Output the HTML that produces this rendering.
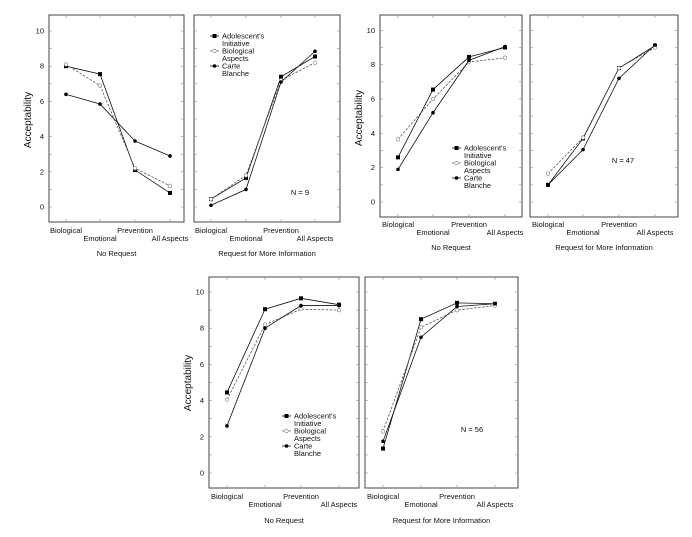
<!DOCTYPE html>
<html><head><meta charset="utf-8"><style>
body{margin:0;background:#fff;}
svg{display:block;font-family:"Liberation Sans",sans-serif;}
</style></head><body>
<svg id="chart" width="692" height="537" viewBox="0 0 692 537"></svg>
<script>
const categories=["Biological","Emotional","Prevention","All Aspects"];
const yTicks=[0,2,4,6,8,10];
const seriesNames=["Adolescent's Initiative","Biological Aspects","Carte Blanche"];
// group 1 (N=9)
const g1NoAI=[8.0,7.55,2.1,0.8], g1NoBA=[8.1,6.9,2.2,1.2], g1NoCB=[6.4,5.85,3.75,2.9];
const g1ReqAI=[0.45,1.65,7.4,8.55], g1ReqBA=[0.45,1.8,7.2,8.2], g1ReqCB=[0.1,1.0,7.1,8.85];
// group 2 (N=47)
const g2NoAI=[2.6,6.55,8.45,9.0], g2NoBA=[3.65,6.0,8.15,8.4], g2NoCB=[1.9,5.2,8.25,9.05];
const g2ReqAI=[1.0,3.7,7.8,9.1], g2ReqBA=[1.65,3.75,7.8,9.0], g2ReqCB=[1.0,3.05,7.2,9.15];
// group 3 (N=56)
const g3NoAI=[4.45,9.05,9.65,9.3], g3NoBA=[4.05,8.2,9.05,9.0], g3NoCB=[2.6,8.0,9.25,9.25];
const g3ReqAI=[1.35,8.5,9.4,9.35], g3ReqBA=[2.3,8.05,9.0,9.25], g3ReqCB=[1.75,7.5,9.2,9.35];
const nLabels=["N = 9","N = 47","N = 56"];

const svg=document.getElementById('chart');
const NS="http://www.w3.org/2000/svg";
function mk(tag,attrs,parent){const e=document.createElementNS(NS,tag);for(const k in attrs)e.setAttribute(k,attrs[k]);(parent||svg).appendChild(e);return e;}
function txt(x,y,s,size,anchor,parent){const t=mk('text',{x:x,y:y,'font-size':size,'text-anchor':anchor||'middle',fill:'#111'},parent);t.textContent=s;return t;}

const groups=[
 {top:15,bot:222,y10:31,y0:207,panels:[[49,184,[66,100,135,170]],[194,340,[211,246,281,315]]],lab1:233,lab2:241,glab:256,ylabX:31,ylabY:120,
  data:[[g1NoAI,g1NoBA,g1NoCB],[g1ReqAI,g1ReqBA,g1ReqCB]],legend:[1,210,36],n:[1,300,195]},
 {top:15,bot:217,y10:30.3,y0:202,panels:[[380,522,[398,433,469,505]],[530,678,[548,583,619,655]]],lab1:227,lab2:235,glab:250,ylabX:362,ylabY:118,
  data:[[g2NoAI,g2NoBA,g2NoCB],[g2ReqAI,g2ReqBA,g2ReqCB]],legend:[0,452,148],n:[1,623,163]},
 {top:277,bot:488,y10:292,y0:473,panels:[[209,359,[227,265,301,339]],[365,518,[383,421,457,495]]],lab1:499,lab2:507,glab:523,ylabX:191,ylabY:383,
  data:[[g3NoAI,g3NoBA,g3NoCB],[g3ReqAI,g3ReqBA,g3ReqCB]],legend:[0,282,416],n:[1,472,432]}
];
const groupNames=["No Request","Request for More Information"];

groups.forEach((g,gi)=>{
  const gEl=mk('g',{});
  
  
  const yScale=v=>g.y0+(g.y10-g.y0)*v/10;
  const yl=txt(0,0,'Acceptability',10,'middle',gEl);
  yl.setAttribute('transform','translate('+g.ylabX+','+g.ylabY+') rotate(-90)');
  
  
  g.panels.forEach((p,pi)=>{
    const [x0,x1,cx]=p;
    const pg=mk('g',{},gEl);
    
    
    mk('rect',{x:x0,y:g.top,width:x1-x0,height:g.bot-g.top,fill:'none',stroke:'#444','stroke-width':1},pg);
    for(let v=0;v<=10;v++){const y=yScale(v);
      mk('line',{x1:x0,y1:y,x2:x0+3,y2:y,stroke:'#888','stroke-width':0.6},pg);
      mk('line',{x1:x1,y1:y,x2:x1-3,y2:y,stroke:'#888','stroke-width':0.6},pg);}
    cx.forEach(x=>{mk('line',{x1:x,y1:g.top,x2:x,y2:g.top+3,stroke:'#888','stroke-width':0.6},pg);
      mk('line',{x1:x,y1:g.bot,x2:x,y2:g.bot-3,stroke:'#888','stroke-width':0.6},pg);});
    if(pi===0) yTicks.forEach(v=>{const t=txt(x0-5,yScale(v)+2.5,String(v),7.5,'end',pg);
      
      });
    categories.forEach((c,i)=>{const t=txt(cx[i],i%2===0?g.lab1:g.lab2,c,7.5,'middle',pg);
      
      });
    const gl=txt((x0+x1)/2,g.glab,groupNames[pi],7.5,'middle',pg);
    
    
    g.data[pi].forEach((vals,si)=>{
      const pts=vals.map((v,i)=>cx[i]+','+yScale(v)).join(' ');
      const l=mk('polyline',{points:pts,fill:'none',stroke:si===1?'#555':'#111','stroke-width':0.8,'stroke-dasharray':si===1?'2.5,1.5':'none'},pg);
      
      
      vals.forEach((v,i)=>{let m;
        if(si===0) m=mk('rect',{x:cx[i]-2,y:yScale(v)-2,width:4,height:4,fill:'#000'},pg);
        else if(si===1) m=mk('circle',{cx:cx[i],cy:yScale(v),r:1.8,fill:'#fff',stroke:'#777','stroke-width':0.6},pg);
        else m=mk('circle',{cx:cx[i],cy:yScale(v),r:1.8,fill:'#000'},pg);
        
        });
    });
    if(g.legend[0]===pi){const lx=g.legend[1],ly=g.legend[2];
      const lg=mk('g',{},pg);
      
      
      seriesNames.forEach((s,si)=>{const y=ly+si*15;
        mk('line',{x1:lx,y1:y,x2:lx+9,y2:y,stroke:si===1?'#555':'#111','stroke-width':0.8,'stroke-dasharray':si===1?'2,1.5':'none'},lg);
        if(si===0) mk('rect',{x:lx+2.5,y:y-2,width:4,height:4,fill:'#000'},lg);
        else if(si===1) mk('circle',{cx:lx+4.5,cy:y,r:1.8,fill:'#fff',stroke:'#777','stroke-width':0.6},lg);
        else mk('circle',{cx:lx+4.5,cy:y,r:1.8,fill:'#000'},lg);
        const parts=s==="Adolescent's Initiative"?["Adolescent's","Initiative"]:s.split(' ');
        txt(lx+12,y+2.5,parts[0],7.5,'start',lg);
        txt(lx+12,y+10,parts[1],7.5,'start',lg);});
    }
    if(g.n[0]===pi){const t=txt(g.n[1],g.n[2],nLabels[gi],7.5,'middle',pg);
      
      }
  });
});
</script>
</body></html>
